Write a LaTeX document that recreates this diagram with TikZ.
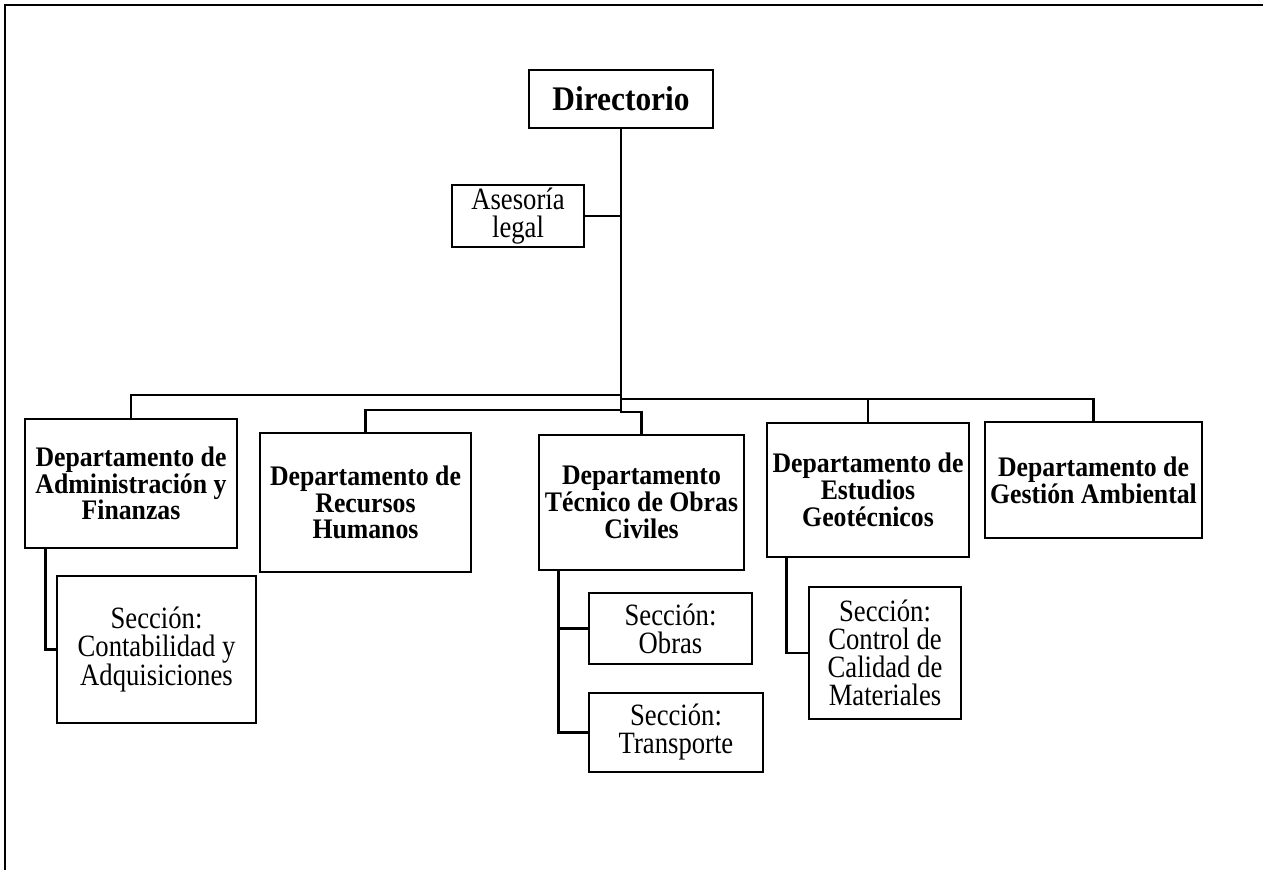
\documentclass[tikz,border=0pt]{standalone}
\usepackage{fontspec}
\setmainfont{Liberation Serif}
\newfontfamily\narrowbold{Liberation Serif}[FakeStretch=0.91]
\newfontfamily\narrowserif{Liberation Serif}[FakeStretch=0.86]
\usetikzlibrary{positioning, calc}
\tikzset{
  org box/.style={draw=black, line width=2.8pt, inner sep=0pt, align=center},
  head box/.style={org box, font=\narrowbold\fontsize{34.5}{36}\selectfont\bfseries},
  dept box/.style={org box, font=\narrowbold\fontsize{28.3}{26.7}\selectfont\bfseries},
  section box/.style={org box, font=\narrowserif\fontsize{31}{28}\selectfont},
  link/.style={line width=2.8pt, black},
  frame line/.style={line width=2.4pt, black}
}

\begin{document}
\begin{tikzpicture}[x=1pt, y=-1pt]
  \useasboundingbox (0,0) rectangle (1263,870);
  % --- Page frame (only top and left edges are visible) ---
  \draw[frame line] (5,870) -- (5,5) -- (1263,5);

  % --- Top level ---
  \node[head box, minimum width=184, minimum height=58] (dir) at (621,99) {Directorio};
  \node[section box, minimum width=132, minimum height=62] (ase) at (518,216) {Asesoría\\legal};

  % --- Departments ---
  \node[dept box, minimum width=212, minimum height=129] (adm) at (131,483.5) {Departamento de\\Administración y\\Finanzas};
  \node[dept box, minimum width=211, minimum height=139] (rrhh) at (365.5,502.5) {Departamento de\\Recursos\\Humanos};
  \node[dept box, minimum width=205, minimum height=135] (tec) at (641.5,502.5) {Departamento\\Técnico de Obras\\Civiles};
  \node[dept box, minimum width=202, minimum height=134] (geo) at (868,490) {Departamento de\\Estudios\\Geotécnicos};
  \node[dept box, minimum width=217, minimum height=116] (amb) at (1093.5,480) {Departamento de\\Gestión Ambiental};

  % --- Sections ---
  \node[section box, minimum width=199, minimum height=147] (cont) at (156.5,649.5) {Sección:\\Contabilidad y\\Adquisiciones};
  \node[section box, minimum width=163, minimum height=71] (obr) at (670.5,628.5) {Sección:\\Obras};
  \node[section box, minimum width=174, minimum height=79] (tra) at (676,732.5) {Sección:\\Transporte};
  \node[section box, minimum width=152, minimum height=132] (ctrl) at (885,653) {Sección:\\Control de\\Calidad de\\Materiales};

  % --- Branch points on the trunk ---
  \coordinate (barL) at (621,395);
  \coordinate (barR) at (621,399);
  \coordinate (barH) at (621,410);
  \coordinate (hub) at (621,412);

  % --- Connectors ---
  \draw[link] (dir.south) -- (hub) -| (tec.north);
  \draw[link] (ase.east) -- (ase.east -| hub);
  \draw[link] (barL) -| (adm.north);
  \draw[link] (barH) -| (rrhh.north);
  \draw[link] (barR) -| (geo.north);
  \draw[link] (barR) -| (amb.north);

  \draw[link] ([xshift=22pt]adm.south west) |- (cont.west);
  \draw[link] ([xshift=21pt]tec.south west) |- (obr.west);
  \draw[link] ([xshift=21pt]tec.south west) |- (tra.west);
  \draw[link] ([xshift=21pt]geo.south west) |- (ctrl.west);
\end{tikzpicture}
\end{document}
